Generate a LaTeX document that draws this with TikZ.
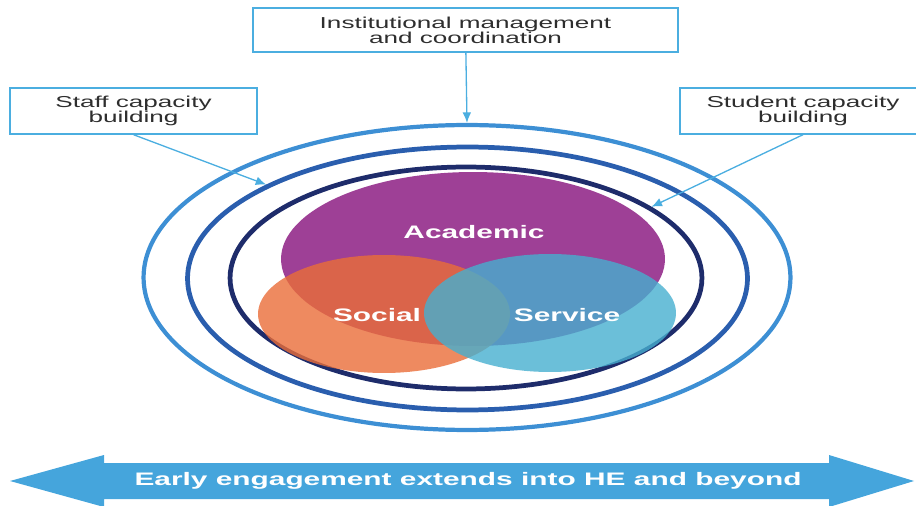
\documentclass[tikz,border=0pt]{standalone}
\usepackage{fontspec}
\setmainfont{Liberation Sans}[FakeStretch=1.65]
\usetikzlibrary{arrows.meta,shapes.geometric}
\definecolor{ringA}{HTML}{3D8FD4}
\definecolor{ringB}{HTML}{2A5EAE}
\definecolor{ringC}{HTML}{1E2C6B}
\definecolor{boxline}{HTML}{4BAEE0}
\definecolor{acadcol}{HTML}{9E4096}
\definecolor{socialcol}{HTML}{EA6D38}
\definecolor{servicecol}{HTML}{46AFCF}
\definecolor{bandcol}{HTML}{45A5DC}
\definecolor{inkgrey}{HTML}{2E2E2E}
\tikzset{ringy/.style={draw,ellipse,inner sep=0},
    boxy/.style={draw=boxline,line width=0.8pt,rectangle,align=center,text=inkgrey,font=\fontsize{9}{8.4}\selectfont},
    blobby/.style={ellipse,inner sep=0,draw=none},
    blobtext/.style={text=white,font=\fontsize{10.3}{12}\selectfont\bfseries},
    pointer/.style={draw=boxline,line width=0.75pt,-{Latex[length=6pt,width=5pt]}}}

\begin{document}
\begin{tikzpicture}[x=0.02cm,y=-0.02cm]
\useasboundingbox (0,0) rectangle (916,506);

\node (ring 1) [ringy,draw=ringA,line width=2.4pt,minimum width=12.94cm,minimum height=6.1cm] at (467,277.5) {};
\node (ring 2) [ringy,draw=ringB,line width=2.7pt,minimum width=11.2cm,minimum height=5.26cm] at (467.5,278.5) {};
\node (ring 3) [ringy,draw=ringC,line width=2.7pt,minimum width=9.44cm,minimum height=4.44cm] at (466,278) {};

\node (academic) [blobby,fill=acadcol,minimum width=7.68cm,minimum height=3.48cm] at (473,259) {};
\node (social) [blobby,fill=socialcol,fill opacity=0.8,minimum width=5.04cm,minimum height=2.36cm] at (384,314) {};
\node (service) [blobby,fill=servicecol,fill opacity=0.8,minimum width=5.04cm,minimum height=2.36cm] at (550,313) {};

\node (academic text) [blobtext] at (474,232) {Academic};
\node (social text) [blobtext] at (377,315) {Social};
\node (service text) [blobtext] at (567,315) {Service};

\node (box top) [boxy,minimum width=8.5cm,minimum height=0.88cm] at (465.5,30) {Institutional management\\and coordination};
\node (box staff) [boxy,minimum width=4.94cm,minimum height=0.92cm] at (133.5,111) {Staff capacity\\building};
\node (box student) [boxy,minimum width=4.92cm,minimum height=0.92cm] at (803,111) {Student capacity\\building};

\draw [pointer] (box top) -- (ring 1.north);
\draw [pointer] (box staff.south) -- (ring 2.155);
\draw [pointer] (box student.south) -- (ring 3.21);

\fill [bandcol] (10,481) -- (104,455) -- (104,463) -- (829,463) -- (829,455) -- (914,481)
    -- (829,507) -- (829,499) -- (104,499) -- (104,507) -- cycle;
\node (band text) [blobtext] at (468,481) {Early engagement extends into HE and beyond};

\end{tikzpicture}
\end{document}
